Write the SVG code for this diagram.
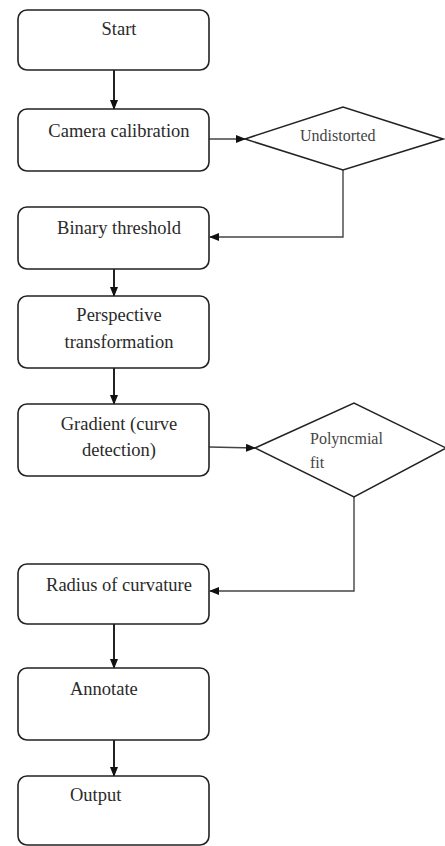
<svg xmlns="http://www.w3.org/2000/svg" width="445" height="846" viewBox="0 0 445 846">
<style>
.box{fill:#fff;stroke:#222;stroke-width:1.6}
.dia{fill:#fff;stroke:#222;stroke-width:1.5}
.t{font-size:18.5px;fill:#2a2a2a}
.c{text-anchor:middle}
.d{font-size:16px;fill:#444}
.v{stroke:#222;stroke-width:2;fill:none}
.h{stroke:#444;stroke-width:1.4;fill:none}
</style>
<defs>
<marker id="ah" markerWidth="10" markerHeight="8" refX="9" refY="4" orient="auto" markerUnits="userSpaceOnUse">
<path d="M0,0 L10,4 L0,8 Z" fill="#111"/>
</marker>
</defs>
<rect width="445" height="846" fill="#fff"/>
<g id="connectors">
<line class="v" x1="114" y1="70" x2="114" y2="109" marker-end="url(#ah)"/>
<line class="v" x1="114" y1="269" x2="114" y2="296" marker-end="url(#ah)"/>
<line class="v" x1="114" y1="368" x2="114" y2="404" marker-end="url(#ah)"/>
<line class="v" x1="114" y1="624" x2="114" y2="668" marker-end="url(#ah)"/>
<line class="v" x1="114" y1="740" x2="114" y2="776" marker-end="url(#ah)"/>
<line class="h" x1="209" y1="139" x2="245" y2="139" marker-end="url(#ah)"/>
<polyline class="h" points="343,170 343,237 210,237" marker-end="url(#ah)"/>
<line class="h" x1="209" y1="447" x2="255" y2="448" marker-end="url(#ah)"/>
<polyline class="h" points="354,497 354,591 210,591" marker-end="url(#ah)"/>
</g>
<g font-family="'Liberation Serif', 'DejaVu Serif', serif">
<g id="start">
<rect class="box" x="18" y="10" width="191" height="60" rx="9"/>
<text class="t c" x="119" y="35">Start</text>
</g>
<g id="camera">
<rect class="box" x="18" y="109" width="191" height="62" rx="9"/>
<text class="t c" x="119" y="137">Camera calibration</text>
</g>
<g id="undistorted">
<polygon class="dia" points="245,139 343,107 443,139 343,170"/>
<text class="d" x="300" y="141">Undistorted</text>
</g>
<g id="binary">
<rect class="box" x="18" y="207" width="191" height="62" rx="9"/>
<text class="t c" x="119" y="234">Binary threshold</text>
</g>
<g id="perspective">
<rect class="box" x="18" y="296" width="191" height="72" rx="9"/>
<text class="t c" x="119" y="321">Perspective</text>
<text class="t c" x="119" y="348">transformation</text>
</g>
<g id="gradient">
<rect class="box" x="18" y="404" width="191" height="72" rx="9"/>
<text class="t c" x="119" y="430">Gradient (curve</text>
<text class="t c" x="119" y="456">detection)</text>
</g>
<g id="polynomial">
<polygon class="dia" points="255,448 354,403 446,448 354,497"/>
<text class="d" x="310" y="444">Polyncmial</text>
<text class="d" x="310" y="468">fit</text>
</g>
<g id="radius">
<rect class="box" x="18" y="564" width="191" height="60" rx="9"/>
<text class="t c" x="119" y="591">Radius of curvature</text>
</g>
<g id="annotate">
<rect class="box" x="18" y="668" width="191" height="72" rx="9"/>
<text class="t" x="70" y="695">Annotate</text>
</g>
<g id="output">
<rect class="box" x="18" y="776" width="191" height="69" rx="9"/>
<text class="t" x="70" y="801">Output</text>
</g>
</g>
</svg>
